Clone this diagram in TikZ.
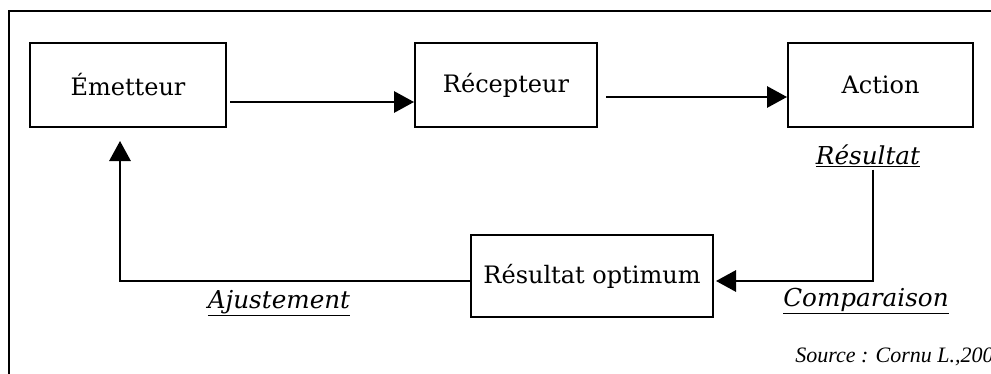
\documentclass[tikz,border=0pt]{standalone}
\usepackage{fontspec}
\setmainfont{DejaVu Serif}
\newfontfamily\sourcefont{Liberation Serif}
\usetikzlibrary{arrows.meta,calc}

\begin{document}
\begin{tikzpicture}[x=0.75pt, y=-0.75pt]
  \useasboundingbox (0,0) rectangle (991,374);
  %
  \tikzset{>={Triangle[length=15pt,width=16pt]}}
  \tikzset{boite/.style={draw, line width=1.5pt, minimum height=63pt, inner sep=0pt, font=\fontsize{18}{20}\selectfont}}
  \tikzset{etiquette/.style={inner sep=0pt, font=\fontsize{18.5}{20}\selectfont\itshape}}
  \tikzset{fleche/.style={->, line width=1.5pt}}
  %
  \draw [line width=1.5pt] (9,374) -- (9,11) -- (991,11);
  %
  \foreach \nom/\x/\w/\texte in {emetteur/128/196/Émetteur, recepteur/506/182/Récepteur, action/880.5/185/Action} {
    \node [boite, minimum width=\w*0.75pt] (\nom) at (\x,85) {\texte};
  }
  \node [boite, minimum width=181.5pt, minimum height=61.5pt] (optimum) at (592,276) {Résultat optimum};
  %
  \node [etiquette] (resultat) at (868,156) {\underline{Résultat}};
  \node [etiquette] (ajustement) at (279,303) {\underline{Ajustement}};
  \node [etiquette] (comparaison) at (866,301) {\underline{Comparaison}};
  \node [anchor=west, inner sep=0pt, font=\sourcefont\itshape\fontsize{16.5}{18}\selectfont] (source) at (795,357) {Source : Cornu L.,2002};
  %
  \coordinate (coude) at (873,281);
  \coordinate (retour) at (120,281);
  \draw [fleche] ($(emetteur.east)+(3,17)$) -- ($(recepteur.west)+(0,17)$);
  \draw [fleche] ($(recepteur.east)+(8,12)$) -- ($(action.west)+(0,12)$);
  \draw [fleche] ($(coude |- resultat.south)+(0,2)$) -- (coude) -- ($(optimum.east)+(2,5)$);
  \draw [fleche] ($(optimum.west)+(0,5)$) -- (retour) -- ($(retour |- emetteur.south)+(0,13)$);
\end{tikzpicture}
\end{document}
